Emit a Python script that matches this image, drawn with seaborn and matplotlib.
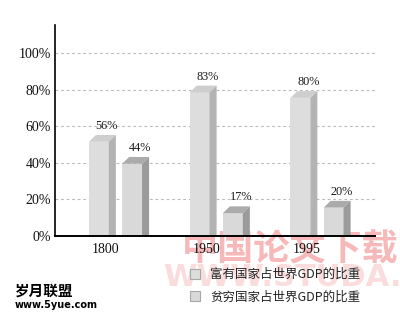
import matplotlib
matplotlib.use('Agg')
import matplotlib.pyplot as plt
import seaborn as sns
import pandas as pd
from matplotlib.patches import Polygon

years = ['1800', '1950', '1995']
rich = [56, 83, 80]
poor = [44, 17, 20]
series_names = ['富有国家占世界GDP的比重', '贫穷国家占世界GDP的比重']
y_ticks = [0, 20, 40, 60, 80, 100]

df = pd.DataFrame({
    'year': years * 2,
    'share': rich + poor,
    'series': [series_names[0]] * 3 + [series_names[1]] * 3,
})

sns.set_theme(style='white')
plt.rcParams['font.family'] = ['Liberation Serif', 'Noto Sans CJK SC']

fig = plt.figure(figsize=(4, 3.17), dpi=100)
ax = fig.add_axes([0.1375, 0.2555, 0.8, 0.6655])
ax.patch.set_alpha(0)

palette = {series_names[0]: '#dddddd', series_names[1]: '#d9d9d9'}
sns.barplot(data=df, x='year', y='share', hue='series', order=years,
            hue_order=series_names, palette=palette, width=0.66, gap=0.4,
            saturation=1, linewidth=0, ax=ax, zorder=3, legend=True)

side_colors = ['#b3b3b3', '#9b9b9b']
top_colors = ['#cecece', '#ababab']
dz = 3.7
dx = 0.07
cut = 4.5
for ci, cont in enumerate(ax.containers):
    for p in cont.patches:
        v = p.get_height()
        x0 = p.get_x()
        w = p.get_width()
        front = v - cut
        p.set_height(front)
        top = Polygon([(x0, front), (x0 + w, front), (x0 + w + dx, front + dz),
                       (x0 + dx, front + dz)], closed=True,
                      facecolor=top_colors[ci], edgecolor='none', zorder=3)
        side = Polygon([(x0 + w, 0), (x0 + w + dx, 0), (x0 + w + dx, front + dz),
                        (x0 + w, front)], closed=True,
                       facecolor=side_colors[ci], edgecolor='none', zorder=3)
        ax.add_patch(top)
        ax.add_patch(side)
        ax.annotate(f'{v:.0f}%', (x0 + w / 2 + 0.08, v), xytext=(0, 5.5),
                    textcoords='offset points', ha='center', va='center',
                    fontsize=8.8, family='Liberation Serif', color='#1a1a1a', zorder=6)

ax.set_ylim(0, 115.3)
ax.set_xlim(-0.6, 2.576)
ax.set_yticks(y_ticks, labels=[f'{t}%' for t in y_ticks])
ax.set_xticks([i - 0.1 for i in range(len(years))], labels=years)
ax.tick_params(axis='both', length=0, labelsize=10, colors='#111111')
ax.tick_params(axis='y', pad=3)
ax.tick_params(axis='x', pad=5)
ax.set_xlabel('')
ax.set_ylabel('')
ax.yaxis.grid(True, linestyle=(0, (2.5, 2.5)), color='#bbbbbb', linewidth=0.8)
ax.set_axisbelow(True)
for s in ['top', 'right']:
    ax.spines[s].set_visible(False)
ax.spines['left'].set_color('black')
ax.spines['left'].set_linewidth(1.2)
ax.spines['bottom'].set_color('black')
ax.spines['bottom'].set_linewidth(1.4)
ax.spines['bottom'].set_zorder(6)

sns.move_legend(ax, 'upper left', bbox_to_anchor=(190 / 400, 1 - 268 / 317),
                bbox_transform=fig.transFigure, frameon=False, title=None,
                prop={'family': 'Noto Sans CJK SC', 'size': 9},
                handlelength=0.8, handleheight=0.9, handletextpad=0.8,
                labelspacing=0.75, borderpad=0, borderaxespad=0)
leg = ax.get_legend()
for h in leg.legend_handles:
    h.set_edgecolor('#a8a8a8')
    h.set_linewidth(0.8)
for t in leg.get_texts():
    t.set_color('#222222')

# watermarks
fig.text(290 / 400, 1 - 250 / 317, '中国论文下载', fontsize=26, fontweight='bold',
         color='#f6b8b8', ha='center', va='center', family='Noto Sans CJK SC', zorder=-1)
fig.text(282 / 400, 1 - 278 / 317, 'WWW.STUDA.', fontsize=22, fontweight='bold',
         color='#fadcdc', ha='center', va='center', family='DejaVu Sans', zorder=-1)
fig.text(15 / 400, 1 - 291 / 317, '岁月联盟', fontsize=10.5, fontweight='bold',
         color='black', ha='left', va='center', family='Noto Sans CJK SC')
fig.text(15 / 400, 1 - 305 / 317, 'www.5yue.com', fontsize=7, fontweight='bold',
         color='black', ha='left', va='center', family='DejaVu Sans')

fig.savefig('out.png', dpi=100)
